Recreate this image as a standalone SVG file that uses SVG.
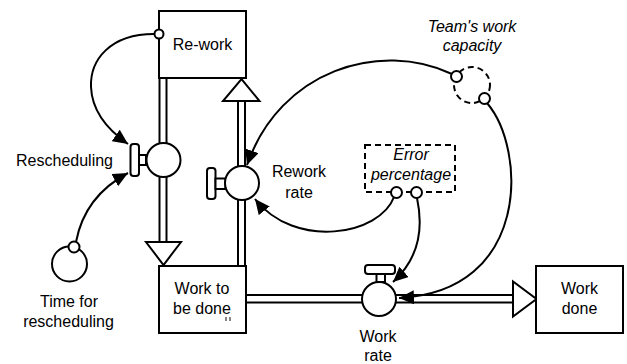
<svg xmlns="http://www.w3.org/2000/svg" width="627" height="364" viewBox="0 0 627 364">
  <style>
    .line { fill: none; stroke: #000; stroke-width: 2; }
    .shape { fill: #fff; stroke: #000; stroke-width: 2; }
    .dash { fill: #fff; stroke: #000; stroke-width: 2; stroke-dasharray: 6 4; }
    .link { fill: none; stroke: #000; stroke-width: 2; marker-end: url(#head); }
    .label { font-family: "Liberation Sans", Arial, sans-serif; font-size: 16px; fill: #000; text-anchor: middle; }
    .aux { font-style: italic; }
  </style>
  <defs>
    <marker id="head" markerUnits="userSpaceOnUse" markerWidth="15" markerHeight="14" refX="15" refY="7" orient="auto" viewBox="0 0 15 14">
      <path d="M0,0 L15,7 L0,14 z" fill="#000"/>
    </marker>
  </defs>

  <g id="connectors">
    <!-- material flows (double pipes) -->
    <g id="flow-rescheduling">
      <line class="line" x1="159.5" y1="78" x2="159.5" y2="242"/>
      <line class="line" x1="166.5" y1="78" x2="166.5" y2="242"/>
      <polygon class="shape" points="146,242 181,242 163.5,265"/>
    </g>
    <g id="flow-rework">
      <line class="line" x1="238" y1="101" x2="238" y2="266"/>
      <line class="line" x1="245" y1="101" x2="245" y2="266"/>
      <polygon class="shape" points="223,101 259.5,101 241.5,79"/>
    </g>
    <g id="flow-work">
      <line class="line" x1="246" y1="295" x2="513" y2="295"/>
      <line class="line" x1="246" y1="302.5" x2="513" y2="302.5"/>
      <polygon class="shape" points="513,281.5 513,316.5 536.5,299"/>
    </g>
    <!-- information links -->
    <path class="link" d="M154,34 C110,34 90,60 91,87 C92,112 108,130 128,144"/>
    <path class="link" d="M76,242 C82,210 100,188 128,173"/>
    <path class="link" d="M452,74 C380,40 280,70 247,165"/>
    <path class="link" d="M394,197 C380,235 295,250 255,199"/>
    <path class="link" d="M417,198 C425,235 415,262 393,282"/>
    <path class="link" d="M487,103 C527,150 530,292 399,298"/>
  </g>

  <g id="rework">
    <rect class="shape" x="159" y="11" width="87" height="67"/>
    <text class="label" x="202.5" y="50">Re-work</text>
    <circle class="shape" cx="159" cy="34" r="4.5"/>
  </g>

  <g id="work-to-be-done">
    <rect class="shape" x="159" y="266" width="87" height="67"/>
    <text class="label" x="202" y="294">Work to</text>
    <text class="label" x="202" y="314">be done</text>
    <line x1="226" y1="317" x2="226" y2="321" stroke="#333" stroke-width="1.2"/>
    <line x1="230" y1="317" x2="230" y2="321" stroke="#333" stroke-width="1.2"/>
  </g>

  <g id="work-done">
    <rect class="shape" x="536" y="266" width="87" height="67"/>
    <text class="label" x="579.5" y="294">Work</text>
    <text class="label" x="579.5" y="314">done</text>
  </g>

  <g id="rescheduling">
    <rect class="shape" x="130.5" y="144" width="8.5" height="32" rx="3"/>
    <rect class="shape" x="139" y="155" width="7" height="10"/>
    <circle class="shape" cx="163.5" cy="160" r="17"/>
    <text class="label" x="113" y="166" style="text-anchor:end">Rescheduling</text>
  </g>

  <g id="rework-rate">
    <rect class="shape" x="207" y="168" width="8.5" height="31" rx="3"/>
    <rect class="shape" x="215.5" y="178.5" width="10" height="10.5"/>
    <circle class="shape" cx="242" cy="183" r="17"/>
    <text class="label" x="299" y="177">Rework</text>
    <text class="label" x="299" y="198">rate</text>
  </g>

  <g id="work-rate">
    <rect class="shape" x="365" y="265" width="30" height="9" rx="3"/>
    <rect class="shape" x="376.5" y="274" width="8.5" height="8"/>
    <circle class="shape" cx="379" cy="299" r="17"/>
    <text class="label" x="378" y="342">Work</text>
    <text class="label" x="378" y="361">rate</text>
  </g>

  <g id="time-for-rescheduling">
    <circle class="shape" cx="69.5" cy="264" r="17.5"/>
    <circle class="shape" cx="74" cy="247" r="5.5"/>
    <text class="label" x="69" y="307">Time for</text>
    <text class="label" x="68.5" y="327">rescheduling</text>
  </g>

  <g id="error-percentage">
    <rect class="dash" x="365" y="145" width="90" height="47"/>
    <text class="label aux" x="411" y="160">Error</text>
    <text class="label aux" x="411" y="180">percentage</text>
    <circle class="shape" cx="396.5" cy="192.5" r="5.5"/>
    <circle class="shape" cx="416.5" cy="192.5" r="5.5"/>
  </g>

  <g id="team-work-capacity">
    <circle class="dash" cx="472" cy="85" r="18" fill="none" style="fill:none"/>
    <circle class="shape" cx="456.5" cy="76.5" r="5.5"/>
    <circle class="shape" cx="484.5" cy="98.5" r="5.5"/>
    <text class="label aux" x="472" y="32">Team's work</text>
    <text class="label aux" x="472" y="51">capacity</text>
  </g>
</svg>
